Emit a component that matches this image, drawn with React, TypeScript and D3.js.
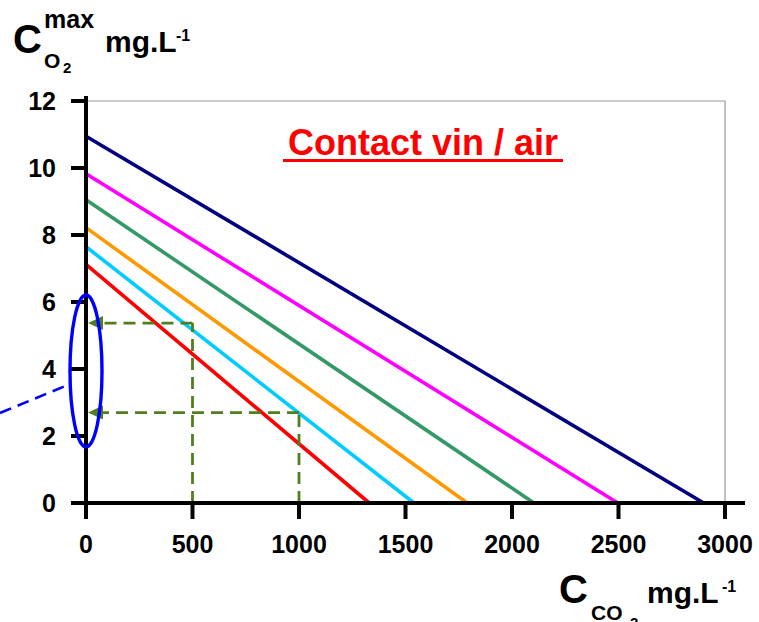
import React from "react";
import * as d3 from "d3";

// y intercept (mg/L O2 at 0 CO2) and x intercept (mg/L CO2 at 0 O2) of each line
const seriesColors = ["#000080", "#FF00FF", "#339966", "#FF9900", "#00CCFF", "#FF0000"];
const seriesStart = [10.95, 9.83, 9.05, 8.22, 7.65, 7.12];
const seriesEnd = [2900, 2497, 2103, 1790, 1540, 1330];

const xTicks = [0, 500, 1000, 1500, 2000, 2500, 3000];
const yTicks = [0, 2, 4, 6, 8, 10, 12];

// dashed read-off guides: [co2, o2]
const guideX = [500, 1000];
const guideY = [5.37, 2.7];

const W = 759;
const H = 622;
const font = "Liberation Sans, Arial, sans-serif";
const guideColor = "#4F7F1F";

export default function App() {
  const x = d3.scaleLinear().domain([0, 3000]).range([86, 725]);
  const y = d3.scaleLinear().domain([0, 12]).range([503, 101]);
  const line = d3
    .line<[number, number]>()
    .x((d) => x(d[0]))
    .y((d) => y(d[1]));

  return (
    <svg
      width={W}
      height={H}
      style={{ position: "absolute", left: 0, top: 0 }}
      fontFamily={font}
    >
      {/* frame top/right */}
      <path
        d={`M${x(0)},${y(12)} H${x(3000)} V${y(0)}`}
        fill="none"
        stroke="#999"
        strokeWidth={1.2}
      />

      {/* series */}
      {seriesColors.map((c, i) => (
        <path
          key={c}
          d={line([
            [0, seriesStart[i]],
            [seriesEnd[i], 0],
          ]) ?? ""}
          stroke={c}
          strokeWidth={3.6}
          fill="none"
        />
      ))}

      {/* dashed guides */}
      {guideX.map((gx, i) => {
        const gy = y(guideY[i]);
        const tip = x(0) + 2;
        return (
          <g key={gx}>
            <g stroke={guideColor} strokeWidth={2.8} strokeDasharray="12,7" fill="none">
              <path d={`M${x(gx)},${y(0)} V${gy}`} />
              <path d={`M${x(gx)},${gy} H${tip + 14}`} />
            </g>
            <path
              d={`M${tip},${gy} L${tip + 15},${gy - 7} L${tip + 15},${gy + 7} Z`}
              fill={guideColor}
            />
          </g>
        );
      })}

      {/* axes */}
      <g stroke="#000" strokeWidth={4}>
        <line x1={x(0)} x2={x(0)} y1={y(12) - 5} y2={y(0) + 16} />
        <line x1={x(0) - 15} x2={x(3000) + 20} y1={y(0)} y2={y(0)} />
        {yTicks.map((t) => (
          <line key={"yt" + t} x1={x(0) - 15} x2={x(0)} y1={y(t)} y2={y(t)} />
        ))}
        {xTicks.map((t) => (
          <line key={"xt" + t} x1={x(t)} x2={x(t)} y1={y(0)} y2={y(0) + 16} />
        ))}
      </g>
      <g fontWeight="bold" fontSize={25} fill="#000">
        {yTicks.map((t) => (
          <text key={"yl" + t} x={56} y={y(t) + 9} textAnchor="end">
            {t}
          </text>
        ))}
        {xTicks.map((t) => (
          <text key={"xl" + t} x={x(t)} y={553} textAnchor="middle">
            {t}
          </text>
        ))}
      </g>

      {/* blue highlight ellipse + pointer */}
      <ellipse
        cx={x(0)}
        cy={371}
        rx={16}
        ry={76}
        fill="none"
        stroke="#0000FF"
        strokeWidth={3.4}
      />
      <line
        x1={0}
        y1={413}
        x2={70}
        y2={384}
        stroke="#0000FF"
        strokeWidth={2.6}
        strokeDasharray="12,7"
      />

      {/* title */}
      <text
        x={423}
        y={155}
        textAnchor="middle"
        fill="#FF0000"
        fontWeight="bold"
        fontSize={36}
      >
        Contact vin / air
      </text>
      <line x1={283} x2={563} y1={160.5} y2={160.5} stroke="#FF0000" strokeWidth={3.2} />

      {/* y axis label */}
      <g fontWeight="bold" fill="#000">
        <text x={13} y={53} fontSize={40}>C</text>
        <text x={44} y={68} fontSize={21}>O</text>
        <text x={63} y={73} fontSize={15}>2</text>
        <text x={44} y={28} fontSize={25}>max</text>
        <text x={105} y={52} fontSize={30}>mg.L</text>
        <text x={176} y={41} fontSize={16}>-1</text>
      </g>

      {/* x axis label */}
      <g fontWeight="bold" fill="#000">
        <text x={559} y={603} fontSize={40}>C</text>
        <text x={591} y={620} fontSize={21}>CO</text>
        <text x={630} y={628} fontSize={15}>2</text>
        <text x={647} y={603} fontSize={30}>mg.L</text>
        <text x={722} y={592} fontSize={16}>-1</text>
      </g>
    </svg>
  );
}
